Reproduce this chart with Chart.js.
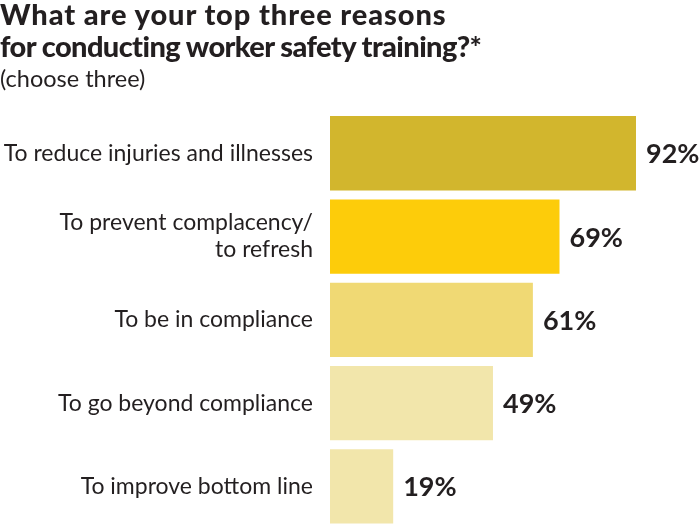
<!DOCTYPE html>
<html>
<head>
<meta charset="utf-8">
<script src="https://cdn.jsdelivr.net/npm/chart.js@4.4.1/dist/chart.umd.min.js"></script>
<style>
  html, body { margin: 0; padding: 0; background: #fff; overflow: hidden; }
  #wrap { position: relative; width: 700px; height: 524px; overflow: hidden; }
  #title { position: absolute; left: 0; top: -2px; font-family: Lato, sans-serif; font-weight: 900;
           font-size: 29px; line-height: 32px; color: #231f20; margin: 0; white-space: nowrap; }
  #title .l1 { letter-spacing: 0.9px; }
  #title .l2 { letter-spacing: -0.6px; }
  #sub { position: absolute; left: 0; top: 64px; font-family: Lato, sans-serif; font-size: 23.5px; color: #231f20; }
  #box { position: absolute; left: 0; top: 0; width: 700px; height: 528px; }
</style>
</head>
<body>
<div id="wrap">
  <div id="box"><canvas id="chart"></canvas></div>
  <h1 id="title"><span class="l1">What are your top three reasons</span><br><span class="l2">for conducting worker safety training?*</span></h1>
  <div id="sub">(choose three)</div>
</div>
<script>
// datos
const categorias = [
  'To reduce injuries and illnesses',
  ['To prevent complacency/', 'to refresh'],
  'To be in compliance',
  'To go beyond compliance',
  'To improve bottom line'
];
const porcentajes = [92, 69, 61, 49, 19];
const colores = ['#d2b62d', '#fdcc0a', '#f0d974', '#f2e6ab', '#f2e6ab'];

// etiquetas de valor al final de cada barra
const valorPlugin = {
  id: 'valores',
  afterDatasetsDraw(chart) {
    const ctx = chart.ctx;
    ctx.save();
    ctx.font = 'bold 27px Lato, sans-serif';
    ctx.fillStyle = '#231f20';
    ctx.textAlign = 'left';
    ctx.textBaseline = 'alphabetic';
    chart.getDatasetMeta(0).data.forEach((bar, i) => {
      ctx.fillText(porcentajes[i] + '%', bar.x + 10, bar.y + 10);
    });
    ctx.restore();
  }
};

new Chart(document.getElementById('chart'), {
  type: 'bar',
  data: {
    labels: categorias,
    datasets: [{
      data: porcentajes,
      backgroundColor: colores,
      borderWidth: 0,
      categoryPercentage: 1,
      barPercentage: 0.892
    }]
  },
  options: {
    indexAxis: 'y',
    responsive: true,
    maintainAspectRatio: false,
    animation: false,
    layout: { padding: { top: 111.6, right: 37.4, bottom: 0, left: 0 } },
    scales: {
      x: { display: false, min: 0, max: 100 },
      y: {
        grid: { display: false, drawTicks: false },
        border: { display: false },
        ticks: {
          color: '#231f20',
          padding: 17,
          font: { family: 'Lato, sans-serif', size: 23, lineHeight: 1.17 }
        },
        afterFit(scale) {
          scale.width = 330;
          // sin relleno vertical extra por las etiquetas
          scale.paddingTop = 0;
          scale.paddingBottom = 0;
        }
      }
    },
    plugins: {
      legend: { display: false },
      tooltip: { enabled: false }
    }
  },
  plugins: [valorPlugin]
});
</script>
</body>
</html>
